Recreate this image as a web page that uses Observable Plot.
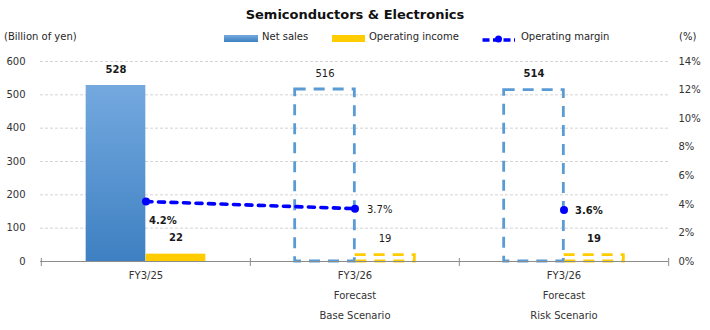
<!DOCTYPE html>
<html><head><meta charset="utf-8">
<script src="https://cdn.jsdelivr.net/npm/d3@7"></script>
<script src="https://cdn.jsdelivr.net/npm/@observablehq/plot@0.6"></script>
<style>
body{margin:0;background:#fff;}
#wrap{position:relative;width:710px;height:330px;font-family:"DejaVu Sans",sans-serif;color:#1a1a1a;overflow:hidden;}
.abs{position:absolute;white-space:nowrap;}
.lg{font-size:10px;line-height:12px;top:31px;color:#262626;}
</style></head><body>
<div id="wrap"></div>
<script>
// ---- data ----
const categories = ["FY3/25", "FY3/26 Base", "FY3/26 Risk"];
const categoryLabels = ["FY3/25", "FY3/26\nForecast\nBase Scenario", "FY3/26\nForecast\nRisk Scenario"];
const netSales = [528, 516, 514];
const operatingIncome = [22, 19, 19];
const operatingMargin = [4.2, 3.7, 3.6];
const isForecast = [false, true, true];
const yTicksLeft = [0, 100, 200, 300, 400, 500, 600];
const yTicksRight = [0, 2, 4, 6, 8, 10, 12, 14];
const titleText = "Semiconductors & Electronics";
const leftUnit = "(Billion of yen)";
const rightUnit = "(%)";
const legendNames = ["Net sales", "Operating income", "Operating margin"];

const rows = categories.map((c, i) => ({
  cat: c, label: categoryLabels[i], sales: netSales[i], income: operatingIncome[i],
  margin: operatingMargin[i], forecast: isForecast[i]
}));
const labelOf = Object.fromEntries(rows.map(d => [d.cat, d.label]));
const actual = rows.filter(d => !d.forecast);
const forecast = rows.filter(d => d.forecast);
// the reference draws the base-scenario labels in regular weight, others bold
const boldRows = rows.filter(d => d.cat !== "FY3/26 Base");
const normRows = rows.filter(d => d.cat === "FY3/26 Base");

const W = 710, H = 330, mt = 61, mb = 69, ml = 40, mr = 42;
const bw = (W - ml - mr) / categories.length;
const barW = 60;
const font = "DejaVu Sans";
const ink = "#1a1a1a";
const axisInk = "#333";
const blue = "#5b9bd5", yellow = "#ffcc00", lineBlue = "#0000ff";

const leftBar = {insetLeft: bw / 2 - barW, insetRight: bw / 2};
const rightBar = {insetLeft: bw / 2, insetRight: bw / 2 - barW};

const p1 = Plot.plot({
  width: W, height: H, marginTop: mt, marginBottom: mb, marginLeft: ml, marginRight: mr,
  style: {background: "transparent", fontFamily: font, fontSize: "10px", color: axisInk},
  x: {type: "band", domain: categories, padding: 0},
  y: {domain: [0, 600]},
  marks: [
    Plot.ruleY(yTicksLeft.filter(d => d > 0), {stroke: "#d4d4d4", strokeDasharray: "3,2"}),
    Plot.barY(actual, {x: "cat", y: "sales", fill: "url(#nsGrad)", ...leftBar}),
    Plot.barY(actual, {x: "cat", y: "income", fill: yellow, ...rightBar}),
    Plot.barY(forecast, {x: "cat", y: "sales", fill: "none", stroke: blue, strokeWidth: 2.8, strokeDasharray: "11,8", ...leftBar}),
    Plot.barY(forecast, {x: "cat", y: "income", fill: "none", stroke: yellow, strokeWidth: 2.8, strokeDasharray: "11,8", ...rightBar}),
    Plot.ruleY([0], {stroke: "#8c8c8c", strokeWidth: 1.2}),
    Plot.ruleX(categories, {x: d => d, y1: 0, y2: 0, insetTop: -3, insetBottom: -5, dx: -bw / 2, stroke: "#8c8c8c"}),
    Plot.ruleX(categories.slice(-1), {x: d => d, y1: 0, y2: 0, insetTop: -3, insetBottom: -5, dx: bw / 2, stroke: "#8c8c8c"}),
    Plot.axisY(yTicksLeft, {tickSize: 0, tickPadding: 15, fontSize: 10, label: null}),
    Plot.axisX({tickSize: 0, tickPadding: 3, tickFormat: d => labelOf[d], lineHeight: 2, fontSize: 10, label: null}),
    Plot.text(boldRows, {x: "cat", y: "sales", text: d => String(d.sales), dx: -barW / 2, dy: -16, fontWeight: "bold", fill: ink, fontSize: 10}),
    Plot.text(normRows, {x: "cat", y: "sales", text: d => String(d.sales), dx: -barW / 2, dy: -16, fill: ink, fontSize: 10}),
    Plot.text(boldRows, {x: "cat", y: "income", text: d => String(d.income), dx: barW / 2, dy: -16, fontWeight: "bold", fill: ink, fontSize: 10}),
    Plot.text(normRows, {x: "cat", y: "income", text: d => String(d.income), dx: barW / 2, dy: -16, fill: ink, fontSize: 10})
  ]
});
d3.select(p1).insert("defs", ":first-child").html(
  '<linearGradient id="nsGrad" x1="0" y1="0" x2="0" y2="1">' +
  '<stop offset="0" stop-color="#74a9df"/><stop offset="1" stop-color="#3e80c2"/></linearGradient>');

const marginLineRows = rows.filter(d => d.cat !== "FY3/26 Risk");
const firstRow = rows.slice(0, 1);
const laterBold = rows.filter(d => d.cat === "FY3/26 Risk");
const pct = d => d.margin.toFixed(1) + "%";

const p2 = Plot.plot({
  width: W, height: H, marginTop: mt, marginBottom: mb, marginLeft: ml, marginRight: mr,
  style: {background: "transparent", fontFamily: font, fontSize: "10px", color: axisInk},
  x: {type: "band", domain: categories, padding: 0, axis: null},
  y: {domain: [0, 14]},
  marks: [
    Plot.axisY(yTicksRight, {anchor: "right", tickSize: 0, tickPadding: 10, tickFormat: d => d + "%", fontSize: 10, label: null}),
    Plot.line(marginLineRows, {x: "cat", y: "margin", stroke: lineBlue, strokeWidth: 3.6, strokeDasharray: "6,6.5", strokeLinecap: "round"}),
    Plot.dot(rows, {x: "cat", y: "margin", r: 4, fill: lineBlue}),
    Plot.text(firstRow, {x: "cat", y: "margin", text: pct, textAnchor: "start", dx: 3, dy: 19, fontWeight: "bold", fill: ink, fontSize: 10}),
    Plot.text(normRows, {x: "cat", y: "margin", text: pct, textAnchor: "start", dx: 12, dy: 1, fill: ink, fontSize: 10}),
    Plot.text(laterBold, {x: "cat", y: "margin", text: pct, textAnchor: "start", dx: 11, dy: 1, fontWeight: "bold", fill: ink, fontSize: 10})
  ]
});

const wrap = document.getElementById("wrap");
for (const p of [p1, p2]) {
  const holder = document.createElement("div");
  holder.className = "abs";
  holder.style.left = "0px"; holder.style.top = "0px";
  holder.appendChild(p);
  wrap.appendChild(holder);
}

function addDiv(text, left, cls, extra) {
  const d = document.createElement("div");
  d.className = "abs " + (cls || "");
  d.textContent = text;
  d.style.left = left + "px";
  if (extra) Object.assign(d.style, extra);
  wrap.appendChild(d);
  return d;
}
addDiv(titleText, 0, "", {top: "7px", width: W + "px", textAlign: "center", fontSize: "13px", lineHeight: "16px", fontWeight: "bold", color: "#111"});
addDiv(leftUnit, 4, "lg");
addDiv(rightUnit, 679, "lg");
addDiv("", 224, "", {top: "35px", width: "34px", height: "7px", background: "linear-gradient(#74a9df,#3e80c2)"});
addDiv(legendNames[0], 262, "lg");
addDiv("", 332, "", {top: "35px", width: "33px", height: "7px", background: yellow});
addDiv(legendNames[1], 369, "lg");
const sw = document.createElementNS("http://www.w3.org/2000/svg", "svg");
sw.setAttribute("width", 36); sw.setAttribute("height", 14);
sw.style.position = "absolute"; sw.style.left = "481px"; sw.style.top = "32px";
sw.innerHTML = '<line x1="1.5" y1="8" x2="34" y2="8" stroke="' + lineBlue + '" stroke-width="3.6" stroke-dasharray="7,3.5"/>' +
  '<circle cx="17.5" cy="7" r="3.5" fill="' + lineBlue + '"/>';
wrap.appendChild(sw);
addDiv(legendNames[2], 521, "lg");
</script>
</body></html>
